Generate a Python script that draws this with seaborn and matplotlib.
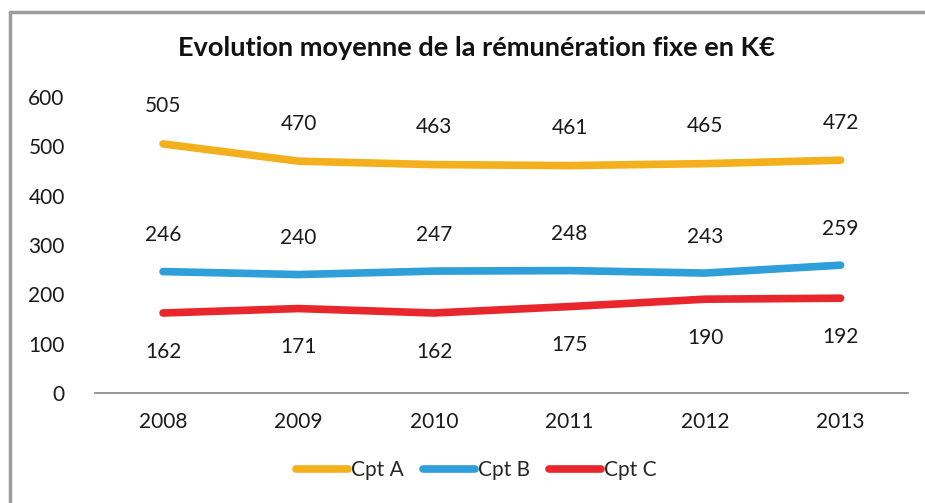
import pandas as pd
import matplotlib.pyplot as plt
import seaborn as sns
from matplotlib.lines import Line2D

# Data
years = ['2008', '2009', '2010', '2011', '2012', '2013']
cpt_a = [505, 470, 463, 461, 465, 472]
cpt_b = [246, 240, 247, 248, 243, 259]
cpt_c = [162, 171, 162, 175, 190, 192]
series_names = ['Cpt A', 'Cpt B', 'Cpt C']
colors = ['#F4B01C', '#2E9FD8', '#E8262B']

df = pd.DataFrame({'year': years * 3,
                   'value': cpt_a + cpt_b + cpt_c,
                   'series': [s for s in series_names for _ in years]})

sns.set_style("white")
plt.rcParams['font.family'] = ['Lato', 'DejaVu Sans']

fig = plt.figure(figsize=(9.25, 5.03), dpi=100)
ax = fig.add_axes([0.103, 0.219, 0.879, 0.588])

sns.lineplot(data=df, x='year', y='value', hue='series', palette=colors,
             linewidth=5.5, sort=False, ax=ax, legend=False,
             solid_capstyle='round')

# data labels: A and B above, C below
for vals, dy in [(cpt_a, 27), (cpt_b, 26), (cpt_c, -28)]:
    for i, v in enumerate(vals):
        ax.annotate(str(v), (i, v), xytext=(0, dy), textcoords='offset points',
                    ha='center', va='center', fontsize=15, color='#1a1a1a')

ax.set_ylim(0, 600)
ax.set_xlim(-0.5, 5.5)
ax.set_yticks(range(0, 601, 100))
ax.set_xlabel('')
ax.set_ylabel('')
ax.tick_params(axis='both', length=0, labelsize=15, colors='#1a1a1a')
ax.tick_params(axis='y', pad=22)
ax.tick_params(axis='x', pad=14)
for side in ['top', 'right', 'left']:
    ax.spines[side].set_visible(False)
ax.spines['bottom'].set_color('#8a7f7f')
ax.spines['bottom'].set_linewidth(1.2)

fig.text(0.515, 0.905, 'Evolution moyenne de la rémunération fixe en K€',
         ha='center', va='center', fontsize=19.5, fontweight='bold', color='#111111')

# legend
handles = [Line2D([0], [0], color=c, lw=5.5, solid_capstyle='round') for c in colors]
fig.legend(handles, series_names, loc='center', bbox_to_anchor=(0.515, 0.065),
           ncol=3, frameon=False, fontsize=15, handlelength=2.5,
           handletextpad=0.15, columnspacing=0.9)

# outer frame: only top and left edges are visible in the reference
fig.add_artist(Line2D([0.011, 1.0], [0.976, 0.976], transform=fig.transFigure,
                      color='#9c9c9c', lw=2.5))
fig.add_artist(Line2D([0.011, 0.011], [0.0, 0.976], transform=fig.transFigure,
                      color='#9c9c9c', lw=2.5))

fig.savefig('out.png', dpi=100)
